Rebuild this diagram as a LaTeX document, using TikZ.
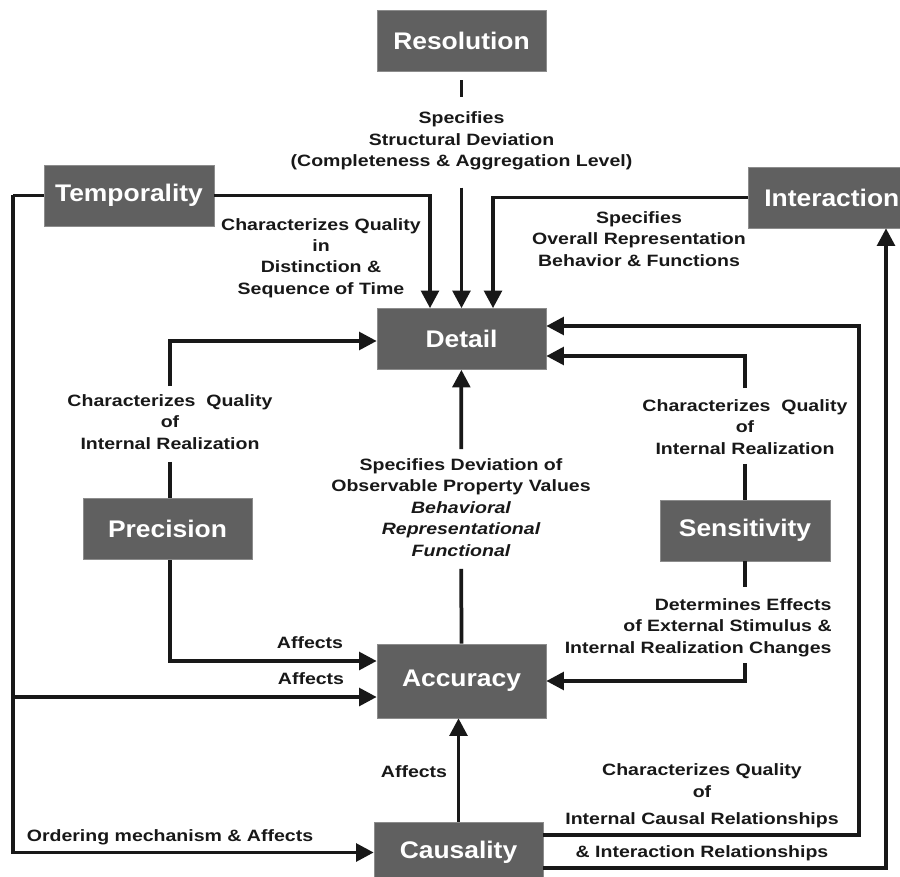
\documentclass[tikz,border=0pt]{standalone}
\usepackage{fontspec}
\setmainfont{Liberation Sans}
\newfontfamily\lblfont[FakeStretch=1.19]{Liberation Sans}
\newfontfamily\boxfont[FakeStretch=1.1]{Liberation Sans}
\usetikzlibrary{arrows.meta,calc}
\definecolor{boxgray}{RGB}{96,96,96}
\definecolor{boxedge}{RGB}{140,140,140}
\definecolor{ink}{RGB}{24,24,24}
\newdimen\gpx
\gpx=0.03cm
\begin{document}
\begin{tikzpicture}[x=0.03cm,y=-0.03cm,
  blk/.style={fill=boxgray, draw=boxedge, line width=0.5pt, text=white,
    font=\boxfont\fontsize{20.5}{25}\selectfont\bfseries,
    minimum width=169\gpx, minimum height=61\gpx, inner sep=0pt},
  link/.style={line width=3.2pt, draw=ink},
  conn/.style={link, -{Triangle[length=15pt,width=15pt]}},
  lbl/.style={font=\lblfont\fontsize{14}{18.3}\selectfont\bfseries, text=ink,
    align=center, inner sep=1pt}
]
\useasboundingbox (0,0) rectangle (900,877);
\clip (0,0) rectangle (900,877);

% boxes
\node[blk] (Resolution)  at (461.5,40.5)  {Resolution};
\node[blk, minimum width=170\gpx] (Temporality) at (129,195.5) {Temporality};
\node[blk, anchor=west, text width=160\gpx, align=left, inner xsep=16\gpx]
  (Interaction) at (748,197.5) {Interaction};
\node[blk] (Detail)      at (461.5,339)   {Detail};
\node[blk] (Precision)   at (167.5,529)   {Precision};
\node[blk, minimum width=170\gpx] (Sensitivity) at (745,530.5) {Sensitivity};
\node[blk, minimum height=74\gpx] (Accuracy) at (461.5,681) {Accuracy};
\node[blk] (Causality)   at (458.5,852.5) {Causality};

% labels
\node[lbl] (resLbl) at (461.5,141)
  {Specifies\\Structural Deviation\\(Completeness \& Aggregation Level)};
\node[lbl] (tempLbl) at (321,258)
  {Characterizes Quality\\in\\Distinction \&\\Sequence of Time};
\node[lbl] (interLbl) at (639,239)
  {Specifies\\Overall Representation\\Behavior \& Functions};
\node[lbl] (precLbl) at (170,422)
  {Characterizes~~Quality\\of\\Internal Realization};
\node[lbl] (sensLbl) at (745,427)
  {Characterizes~~Quality\\of\\Internal Realization};
\node[lbl] (accLbl) at (461,507.5)
  {Specifies Deviation of\\Observable Property Values\\{\itshape Behavioral}\\{\itshape Representational}\\{\itshape Functional}};
\node[lbl, align=right, anchor=east] (effLbl) at (833,627.5)
  {Determines Effects\\of External Stimulus \&\\Internal Realization Changes};
\node[lbl] (affA) at (310,643) {Affects};
\node[lbl] (affB) at (311,679) {Affects};
\node[lbl] (affC) at (414,772) {Affects};
\node[lbl] (ordLbl) at (170,837) {Ordering mechanism \& Affects};
\node[lbl] (causLbl) at (702,796)
  {Characterizes Quality\\of\\[5pt]Internal Causal Relationships};
\node[lbl] (interRel) at (702,853) {\& Interaction Relationships};

% helper points
\coordinate (tbus) at ($(Temporality.west)+(-31,0)$);
\coordinate (accLow) at ($(Accuracy.west)+(0,16)$);
\coordinate (accHigh) at ($(Accuracy.west)+(0,-20)$);
\coordinate (interFoot) at (886,0);

% Resolution -> Detail
\draw[link, shorten <=9\gpx, shorten >=13\gpx] (Resolution) -- (resLbl);
\draw[conn, shorten <=16\gpx] (resLbl) -- (Detail);

% Temporality -> Detail
\draw[conn] (Temporality.east) -| ($(Detail.north)+(-31.5,0)$);

% Interaction -> Detail
\draw[conn] (Interaction.west) -| ($(Detail.north)+(31.5,0)$);

% Precision -> Detail
\draw[link, shorten <=11\gpx] (precLbl.south) -- (precLbl.south |- Precision.north);
\draw[conn, shorten <=7\gpx] (precLbl.north) |- ($(Detail.west)+(0,2)$);

% Sensitivity -> Detail
\draw[link, shorten <=8\gpx] (sensLbl.south) -- (sensLbl.south |- Sensitivity.north);
\draw[conn, shorten <=10\gpx] (sensLbl.north) |- ($(Detail.east)+(0,17)$);

% Accuracy -> Detail
\draw[link, shorten >=11\gpx] (Accuracy.north) -- (accLbl);
\draw[conn, shorten <=8\gpx] (accLbl) -- (Detail);

% Causality -> Detail
\draw[conn] ($(Causality.east)+(0,-17.5)$) -- ++(316,0) |- ($(Detail.east)+(0,-13)$);

% Causality -> Interaction
\draw[conn] ($(Causality.east)+(0,15.5)$) -| (interFoot |- Interaction.south);

% Temporality -> Causality and Accuracy
\draw[link] (Temporality.west) -- (tbus);
\draw[conn] (tbus) |- (Causality.west);
\draw[conn] (tbus |- accLow) -- (accLow);

% Precision -> Accuracy
\draw[conn] (precLbl.south |- Precision.south) |- (accHigh);

% Sensitivity -> Accuracy
\draw[link, shorten >=10\gpx] (Sensitivity.south) -- (Sensitivity.south |- effLbl.north);
\draw[conn, shorten <=5\gpx] (Sensitivity.south |- effLbl.south) |- (Accuracy.east);

% Causality -> Accuracy
\draw[conn] (Causality.north) -- (Causality.north |- Accuracy.south);
\end{tikzpicture}
\end{document}
